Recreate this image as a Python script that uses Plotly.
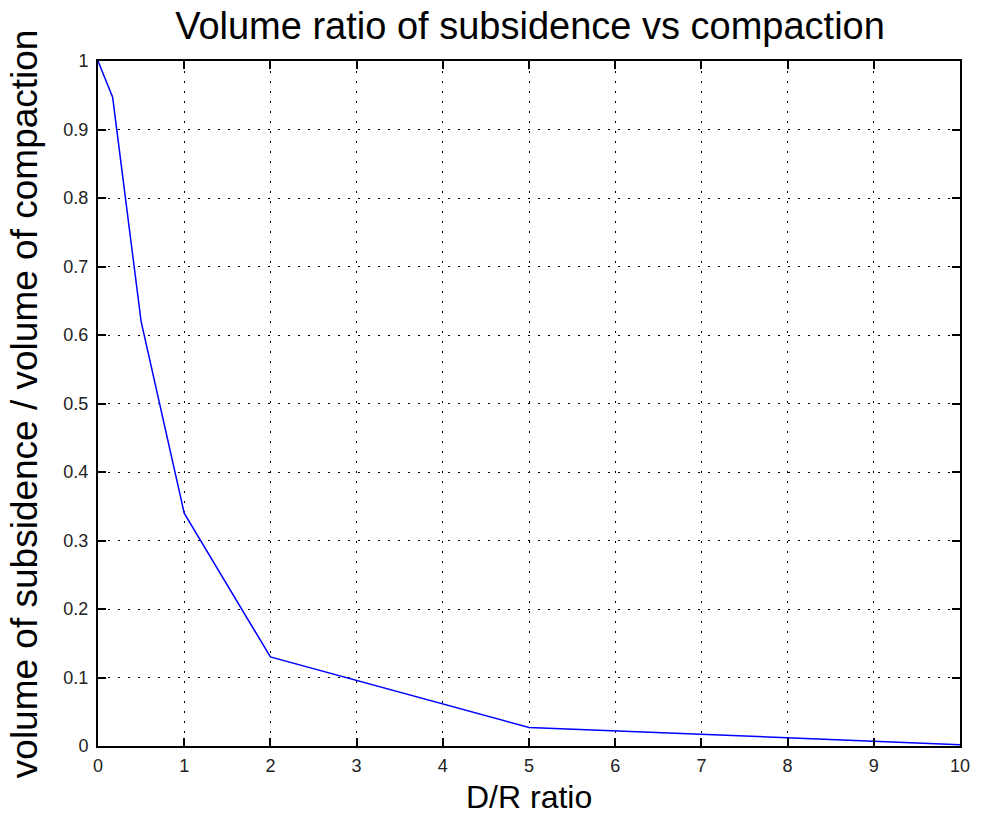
import plotly.graph_objects as go

dr_ratio = [0, 0.17, 0.5, 1, 2, 5, 10]
volume_ratio = [1.0, 0.947, 0.62, 0.34, 0.13, 0.027, 0.002]

x_ticks = [0, 1, 2, 3, 4, 5, 6, 7, 8, 9, 10]
y_ticks = [0, 0.1, 0.2, 0.3, 0.4, 0.5, 0.6, 0.7, 0.8, 0.9, 1]
y_tick_text = ["0", "0.1", "0.2", "0.3", "0.4", "0.5", "0.6", "0.7", "0.8", "0.9", "1"]

FONT = "Liberation Sans, Arial, Helvetica"

fig = go.Figure()
fig.add_trace(go.Scatter(x=dr_ratio, y=volume_ratio, mode="lines",
                         line=dict(color="#0000ff", width=1.5), showlegend=False))

axis_common = dict(
    showline=True, linecolor="black", linewidth=2, mirror="ticks",
    ticks="inside", ticklen=8, tickwidth=2, tickcolor="black",
    showgrid=True, gridcolor="black", gridwidth=1, griddash="2px,8px",
    zeroline=False,
    tickfont=dict(family=FONT, size=18, color="#222"),
)

L, R, T, B = 98, 14, 61, 70
W, H = 982, 816
pw, ph = W - L - R, H - T - B

fig.update_layout(
    width=W, height=H,
    margin=dict(l=L, r=R, t=T, b=B),
    paper_bgcolor="white", plot_bgcolor="white",
    title=dict(text="Volume ratio of subsidence vs compaction",
               x=(530) / W, xanchor="center", y=1 - 26 / H, yanchor="middle",
               font=dict(family=FONT, size=38, color="black")),
    xaxis=dict(range=[0, 10], tickvals=x_ticks, ticktext=[str(v) for v in x_ticks],
               ticklabelstandoff=2, **axis_common),
    yaxis=dict(range=[0, 1], tickvals=y_ticks, ticktext=y_tick_text,
               ticklabelstandoff=4, **axis_common),
    annotations=[
        dict(text="D/R ratio", xref="paper", yref="paper",
             x=0.5, y=-(816 - (T + ph)) / ph, xanchor="center", yanchor="bottom",
             showarrow=False, borderpad=0,
             font=dict(family=FONT, size=32, color="black")),
        dict(text="volume of subsidence / volume of compaction", xref="paper", yref="paper",
             x=(24 - L) / pw, y=0.5, xanchor="center", yanchor="middle", textangle=-90,
             showarrow=False, font=dict(family=FONT, size=37, color="black")),
    ],
)

fig.write_html("out.html")
